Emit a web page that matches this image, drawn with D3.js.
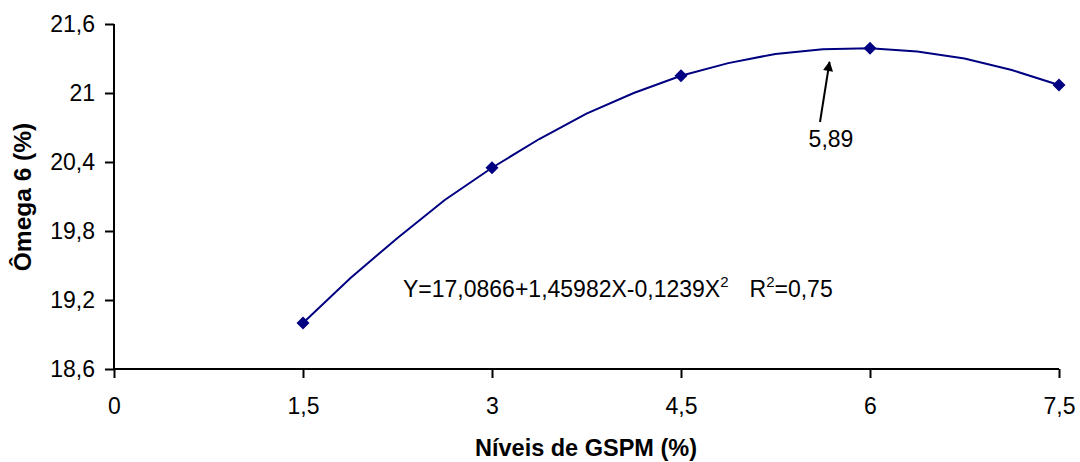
<!DOCTYPE html>
<html>
<head>
<meta charset="utf-8">
<script src="https://cdn.jsdelivr.net/npm/d3@7"></script>
<style>
  html, body { margin: 0; padding: 0; background: #fff; }
  svg { display: block; font-family: "Liberation Sans", Arial, sans-serif; }
</style>
</head>
<body>
<svg id="chart" width="1080" height="462"></svg>
<script>
// Observed levels and Ômega 6 values
const levels = [1.5, 3, 4.5, 6, 7.5];
const omega6 = [19.00, 20.35, 21.15, 21.39, 21.07];

// Fitted curve, sampled along the x range
const curveX = [1.5, 1.875, 2.25, 2.625, 3, 3.375, 3.75, 4.125, 4.5, 4.875, 5.25, 5.625, 6, 6.375, 6.75, 7.125, 7.5];
const curveY = [19.00, 19.39, 19.74, 20.07, 20.35, 20.60, 20.82, 21.00, 21.15, 21.26, 21.34, 21.38, 21.39, 21.36, 21.30, 21.20, 21.07];

const xTicks = [0, 1.5, 3, 4.5, 6, 7.5];
const yTicks = [18.6, 19.2, 19.8, 20.4, 21, 21.6];

const equationMain = "Y=17,0866+1,45982X-0,1239X";
const r2Value = "=0,75";
const peakLabel = "5,89";

const svg = d3.select("#chart");
const plotLeft = 114, plotRight = 1059, plotTop = 24, plotBottom = 369;

const x = d3.scaleLinear().domain([0, 7.5]).range([plotLeft, plotRight]);
const y = d3.scaleLinear().domain([18.6, 21.6]).range([plotBottom, plotTop]);

const fmt = d => String(d).replace(".", ",");

// Axes
const yAxis = svg.append("g")
  .attr("transform", `translate(${plotLeft},0)`)
  .call(d3.axisLeft(y).tickValues(yTicks).tickSize(9).tickPadding(10).tickFormat(fmt));
const xAxis = svg.append("g")
  .attr("transform", `translate(0,${plotBottom})`)
  .call(d3.axisBottom(x).tickValues(xTicks).tickSize(9).tickPadding(20).tickFormat(fmt));

[yAxis, xAxis].forEach(g => {
  g.select(".domain").attr("stroke", "#000").attr("stroke-width", 2);
  g.selectAll(".tick line").attr("stroke", "#000").attr("stroke-width", 2);
  g.selectAll(".tick text").attr("fill", "#000").style("font-size", "23px")
    .style("font-family", "'Liberation Sans', Arial, sans-serif");
});
yAxis.select(".domain").attr("d", `M0,${plotTop}V${plotBottom}`);
xAxis.select(".domain").attr("d", `M${plotLeft},0H${plotRight}`);

// Fitted curve
const pts = curveX.map((d, i) => [d, curveY[i]]);
svg.append("path")
  .datum(pts)
  .attr("fill", "none")
  .attr("stroke", "#000080")
  .attr("stroke-width", 2)
  .attr("d", d3.line().x(d => x(d[0])).y(d => y(d[1])));

// Diamond markers
svg.append("g").selectAll("path")
  .data(levels.map((d, i) => [d, omega6[i]]))
  .join("path")
  .attr("transform", d => `translate(${x(d[0])},${y(d[1])})`)
  .attr("d", "M0,-6.5L6.5,0L0,6.5L-6.5,0Z")
  .attr("fill", "#000080");

// Axis titles
svg.append("text")
  .attr("x", 586).attr("y", 456)
  .attr("text-anchor", "middle")
  .style("font-size", "23.5px").style("font-weight", "bold")
  .text("Níveis de GSPM (%)");

svg.append("text")
  .attr("transform", "translate(31,197) rotate(-90)")
  .attr("text-anchor", "middle")
  .style("font-size", "24.5px").style("font-weight", "bold")
  .text("Ômega 6 (%)");

// Regression equation
const eq = svg.append("text")
  .attr("x", 403).attr("y", 297)
  .style("font-size", "23px");
eq.append("tspan").text(equationMain);
eq.append("tspan").attr("dy", -10).style("font-size", "15px").text("2");
eq.append("tspan").attr("dy", 10).attr("dx", 21).text("R");
eq.append("tspan").attr("dy", -10).style("font-size", "15px").text("2");
eq.append("tspan").attr("dy", 10).text(r2Value);

// Arrow pointing at the maximum
svg.append("defs").append("marker")
  .attr("id", "arrowhead")
  .attr("viewBox", "0 0 10 10")
  .attr("refX", 9).attr("refY", 5)
  .attr("markerWidth", 6).attr("markerHeight", 5)
  .attr("orient", "auto")
  .append("path").attr("d", "M0,0L10,5L0,10Z").attr("fill", "#000");

svg.append("line")
  .attr("x1", 820).attr("y1", 122)
  .attr("x2", 829.5).attr("y2", 62)
  .attr("stroke", "#000").attr("stroke-width", 2)
  .attr("marker-end", "url(#arrowhead)");

svg.append("text")
  .attr("x", 831).attr("y", 147)
  .attr("text-anchor", "middle")
  .style("font-size", "23px")
  .text(peakLabel);
</script>
</body>
</html>
